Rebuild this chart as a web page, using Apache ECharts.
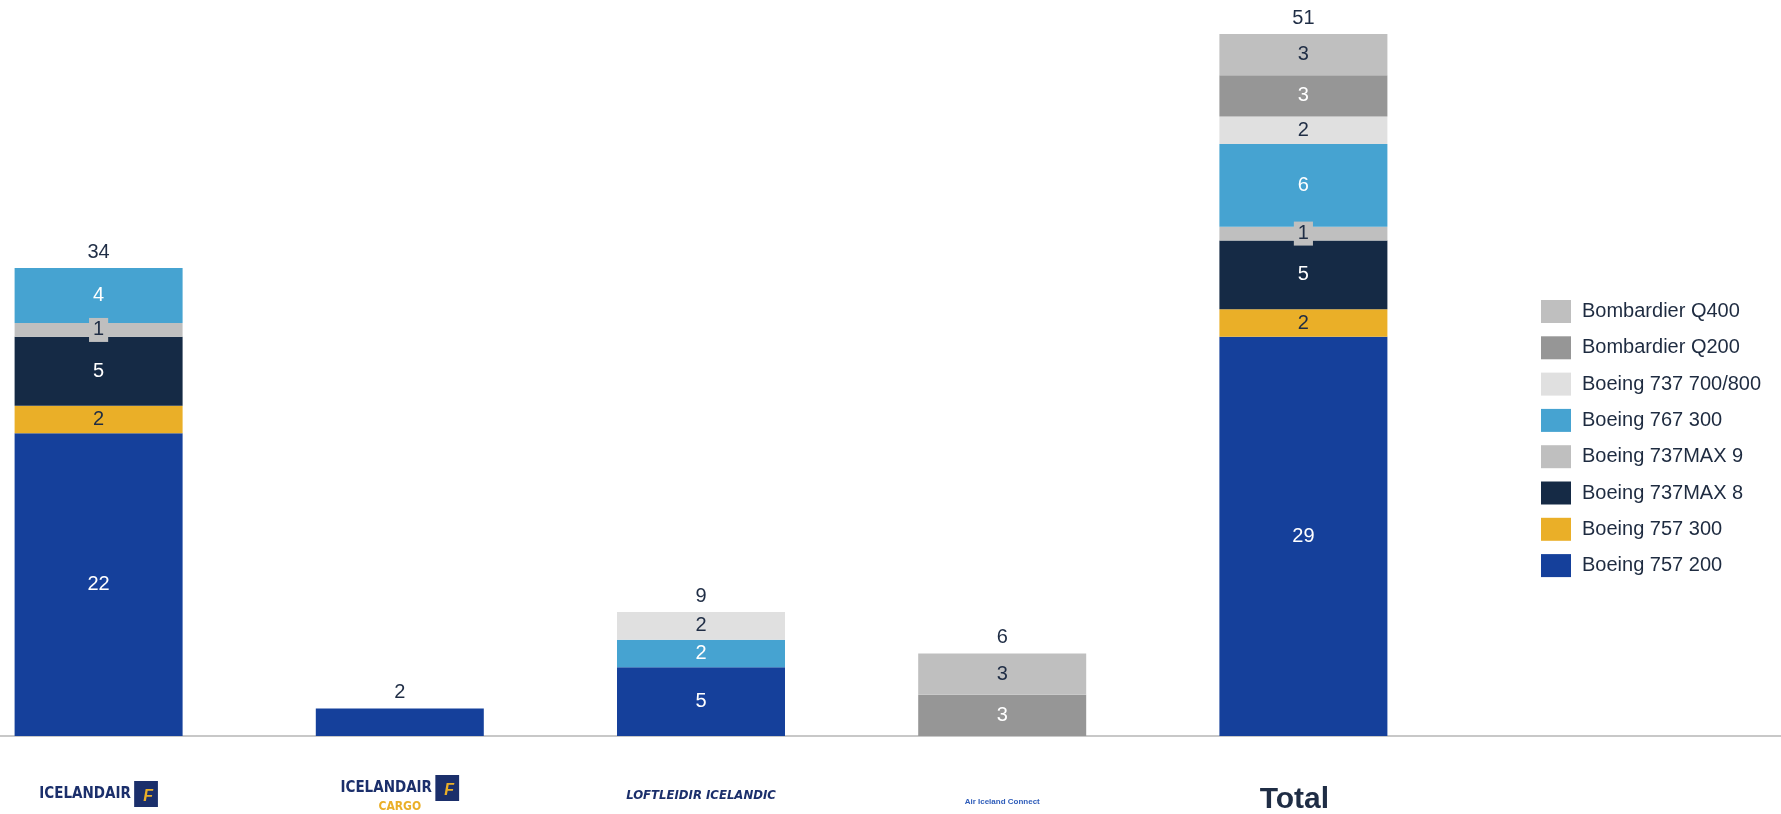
<!DOCTYPE html>
<html>
<head>
<meta charset="utf-8">
<script src="https://cdn.jsdelivr.net/npm/echarts@6/dist/echarts.min.js"></script>
<style>html,body{margin:0;padding:0;background:#fff}#c{width:1781px;height:814px}</style>
</head>
<body>
<div id="c"></div>
<script>
const categories = ['Icelandair', 'Icelandair Cargo', 'Loftleidir Icelandic', 'Air Iceland Connect', 'Total'];
const seriesNames = ['Boeing 757 200', 'Boeing 757 300', 'Boeing 737MAX 8', 'Boeing 737MAX 9', 'Boeing 767 300', 'Boeing 737 700/800', 'Bombardier Q200', 'Bombardier Q400'];
const b757_200 = [22, 2, 5, 0, 29];
const b757_300 = [2, 0, 0, 0, 2];
const b737max8 = [5, 0, 0, 0, 5];
const b737max9 = [1, 0, 0, 0, 1];
const b767_300 = [4, 0, 2, 0, 6];
const b737_700_800 = [0, 0, 2, 0, 2];
const q200 = [0, 0, 0, 3, 3];
const q400 = [0, 0, 0, 3, 3];
const totals = [34, 2, 9, 6, 51];
// categories whose inner segment labels are not shown (only the total is printed)
const hideInner = [false, true, false, false, false];

const values = [b757_200, b757_300, b737max8, b737max9, b767_300, b737_700_800, q200, q400];
const colors = ['#15409B', '#EAAF28', '#152A45', '#BFBFBF', '#46A3D1', '#E0E0E0', '#969696', '#BFBFBF'];
const labelColors = ['#FFFFFF', '#1F2D45', '#FFFFFF', '#1F2D45', '#FFFFFF', '#1F2D45', '#FFFFFF', '#1F2D45'];
const dark = '#1F2D45';

const series = values.map((arr, i) => ({
  name: seriesNames[i],
  type: 'bar',
  stack: 'fleet',
  xAxisIndex: 0, yAxisIndex: 0,
  barWidth: 168,
  data: arr.map((v, j) => v === 0 ? '-' : (hideInner[j] ? { value: v, label: { show: false } } : v)),
  itemStyle: { color: colors[i] },
  label: Object.assign({
    show: true,
    position: 'inside',
    color: labelColors[i],
    fontSize: 20,
    fontFamily: 'Liberation Sans, Arial, sans-serif'
  }, i === 3 ? { backgroundColor: '#BFBFBF', padding: [3, 4, 1, 4] } : {})
}));

series.push({
  name: 'totals',
  type: 'scatter',
  xAxisIndex: 0, yAxisIndex: 0,
  symbolSize: 0,
  data: totals,
  silent: true,
  itemStyle: { opacity: 1 },
  label: {
    show: true, position: 'top', distance: 6, opacity: 1,
    color: dark, fontSize: 20, fontFamily: 'Liberation Sans, Arial, sans-serif'
  }
});

const logoMap = {
  'Icelandair': '{ice|ICELANDAIR} {tail|F}',
  'Icelandair Cargo': '{ice|ICELANDAIR} {tail|F}\n{cargo|CARGO}',
  'Loftleidir Icelandic': '{loft|LOFTLEIDIR ICELANDIC}',
  'Air Iceland Connect': '{aic|Air Iceland Connect}',
  'Total': '{tot|Total}'
};

const option = {
  animation: false,
  backgroundColor: '#ffffff',
  legend: {
    orient: 'vertical',
    left: 1541,
    top: 300,
    padding: 0,
    itemWidth: 30,
    itemHeight: 23,
    itemGap: 13.3,
    icon: 'rect',
    data: seriesNames.slice().reverse(),
    textStyle: { fontSize: 20, color: '#1E2B40', fontFamily: 'Liberation Sans, Arial, sans-serif', padding: [0, 0, 0, 6] }
  },
  grid: [
    { left: -52, width: 1506, top: 34, height: 702, outerBoundsMode: 'none', containLabel: false },
    { left: 0, right: 0, top: 34, height: 702, outerBoundsMode: 'none' }
  ],
  xAxis: [
    {
      type: 'category', gridIndex: 0, data: categories,
      axisLine: { show: false }, axisTick: { show: false },
      axisLabel: {
        margin: 58,
        verticalAlign: 'middle',
        formatter: v => logoMap[v],
        rich: {
          ice: { fontSize: 15, fontWeight: 'bold', color: '#1B2F6B', fontFamily: 'DejaVu Sans Condensed, Liberation Sans Narrow, sans-serif' },
          tail: { fontSize: 16, fontWeight: 'bold', fontStyle: 'italic', color: '#EAAF28', backgroundColor: '#1B2F6B', padding: [8, 5, 2, 9] },
          cargo: { fontSize: 12, fontWeight: 'bold', color: '#EAAF28', align: 'center', fontFamily: 'DejaVu Sans Condensed, sans-serif' },
          loft: { fontSize: 13, fontWeight: 'bold', fontStyle: 'italic', color: '#1B2F6B', fontFamily: 'DejaVu Sans Condensed, sans-serif', padding: [4, 0, 0, 0] },
          aic: { fontSize: 8, fontWeight: 'bold', color: '#2F5DBA', fontFamily: 'Liberation Sans, Arial, sans-serif', padding: [16, 0, 0, 0] },
          tot: { fontSize: 30, fontWeight: 'bold', color: dark, fontFamily: 'Liberation Sans, Arial, sans-serif', padding: [12, 18, 0, 0] }
        }
      }
    },
    {
      type: 'value', gridIndex: 1, min: 0, max: 1,
      axisLine: { show: true, lineStyle: { color: '#C8C8C8', width: 2 } },
      axisTick: { show: false }, axisLabel: { show: false }, splitLine: { show: false }
    }
  ],
  yAxis: [
    { type: 'value', gridIndex: 0, min: 0, max: 51, show: false, splitLine: { show: false } },
    { type: 'value', gridIndex: 1, min: 0, max: 1, show: false, splitLine: { show: false } }
  ],
  series: series
};

const chart = echarts.init(document.getElementById('c'), null, { renderer: 'canvas' });
chart.setOption(option);
</script>
</body>
</html>
